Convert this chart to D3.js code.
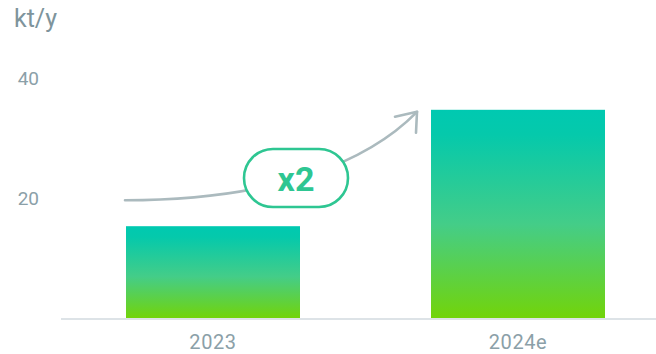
<!DOCTYPE html>
<html>
<head>
<meta charset="utf-8">
<script src="https://cdn.jsdelivr.net/npm/d3@7"></script>
<style>
  html, body { margin: 0; padding: 0; background: #fff; }
  svg { display: block; font-family: Roboto, "Noto Sans", sans-serif; }
</style>
</head>
<body>
<svg id="chart" width="656" height="354"></svg>
<script>
// Capacity per year, kt/y
const categories = ["2023", "2024e"];
const values = [15.3, 34.7];
const yTicks = [20, 40];
const unitLabel = "kt/y";
const growthLabel = "x2";

const svg = d3.select("#chart");

const x = d3.scaleBand()
  .domain(categories)
  .range([126, 605])
  .paddingInner(0.4295)
  .paddingOuter(0);

const y = d3.scaleLinear()
  .domain([0, 40])
  .range([318, 78]);

// vertical teal-to-green fill for the bars
const defs = svg.append("defs");
const grad = defs.append("linearGradient")
  .attr("id", "barFill")
  .attr("x1", 0).attr("y1", 0).attr("x2", 0).attr("y2", 1);
grad.append("stop").attr("offset", "0%").attr("stop-color", "#00c9b1");
grad.append("stop").attr("offset", "12%").attr("stop-color", "#05c9ab");
grad.append("stop").attr("offset", "55%").attr("stop-color", "#44cd88");
grad.append("stop").attr("offset", "100%").attr("stop-color", "#72d40a");

// unit label
svg.append("text")
  .attr("x", 14).attr("y", 27)
  .attr("font-size", 25)
  .attr("fill", "#7e949c")
  .text(unitLabel);

// y tick labels (no tick lines)
const yAxis = d3.axisLeft(y).tickValues(yTicks).tickSize(0).tickPadding(0);
const yg = svg.append("g").attr("transform", "translate(39,0)").call(yAxis);
yg.select(".domain").remove();
yg.selectAll("text")
  .attr("font-size", 19)
  .attr("font-family", "Roboto, sans-serif")
  .attr("fill", "#8ba0a8");

// bars
svg.append("g")
  .selectAll("rect")
  .data(categories)
  .join("rect")
  .attr("x", d => x(d))
  .attr("width", x.bandwidth())
  .attr("y", (d, i) => y(values[i]))
  .attr("height", (d, i) => y(0) - y(values[i]))
  .attr("fill", "url(#barFill)");

// baseline
svg.append("line")
  .attr("x1", 61).attr("x2", 656)
  .attr("y1", y(0) + 1).attr("y2", y(0) + 1)
  .attr("stroke", "#dde3e7")
  .attr("stroke-width", 2);

// x labels
const xAxis = d3.axisBottom(x).tickSize(0).tickPadding(0);
const xg = svg.append("g").attr("transform", "translate(0,335)").call(xAxis);
xg.select(".domain").remove();
xg.selectAll("text")
  .attr("font-size", 20)
  .attr("font-family", "Roboto, sans-serif")
  .attr("letter-spacing", "0.6px")
  .attr("fill", "#8ba0a8");

// growth arrow, anchored to the bars
const x0 = x(categories[0]) - 1;
const y0 = y(values[0]) - 26;
const x1 = x(categories[1]) - 14;
const y1 = y(values[1]) + 2;
const arrowColor = "#abbabe";
svg.append("path")
  .attr("d", `M${x0},${y0} C${x0 + 155},${y0} ${x1 - 47},${y1 + 48} ${x1},${y1}`)
  .attr("fill", "none")
  .attr("stroke", arrowColor)
  .attr("stroke-width", 2.6)
  .attr("stroke-linecap", "round");
svg.append("path")
  .attr("d", `M${x1 - 22},${y1 + 5} L${x1},${y1} L${x1 - 1},${y1 + 21}`)
  .attr("fill", "none")
  .attr("stroke", arrowColor)
  .attr("stroke-width", 2.6)
  .attr("stroke-linecap", "round")
  .attr("stroke-linejoin", "round");

// growth badge
const badge = svg.append("g").attr("transform", "translate(296,178)");
badge.append("rect")
  .attr("x", -52).attr("y", -29)
  .attr("width", 104).attr("height", 58)
  .attr("rx", 29)
  .attr("fill", "#fff")
  .attr("stroke", "#2ec692")
  .attr("stroke-width", 2.6);
badge.append("text")
  .attr("text-anchor", "middle")
  .attr("y", 13)
  .attr("font-size", 34)
  .attr("font-weight", 700)
  .attr("fill", "#2ec692")
  .text(growthLabel);
</script>
</body>
</html>
